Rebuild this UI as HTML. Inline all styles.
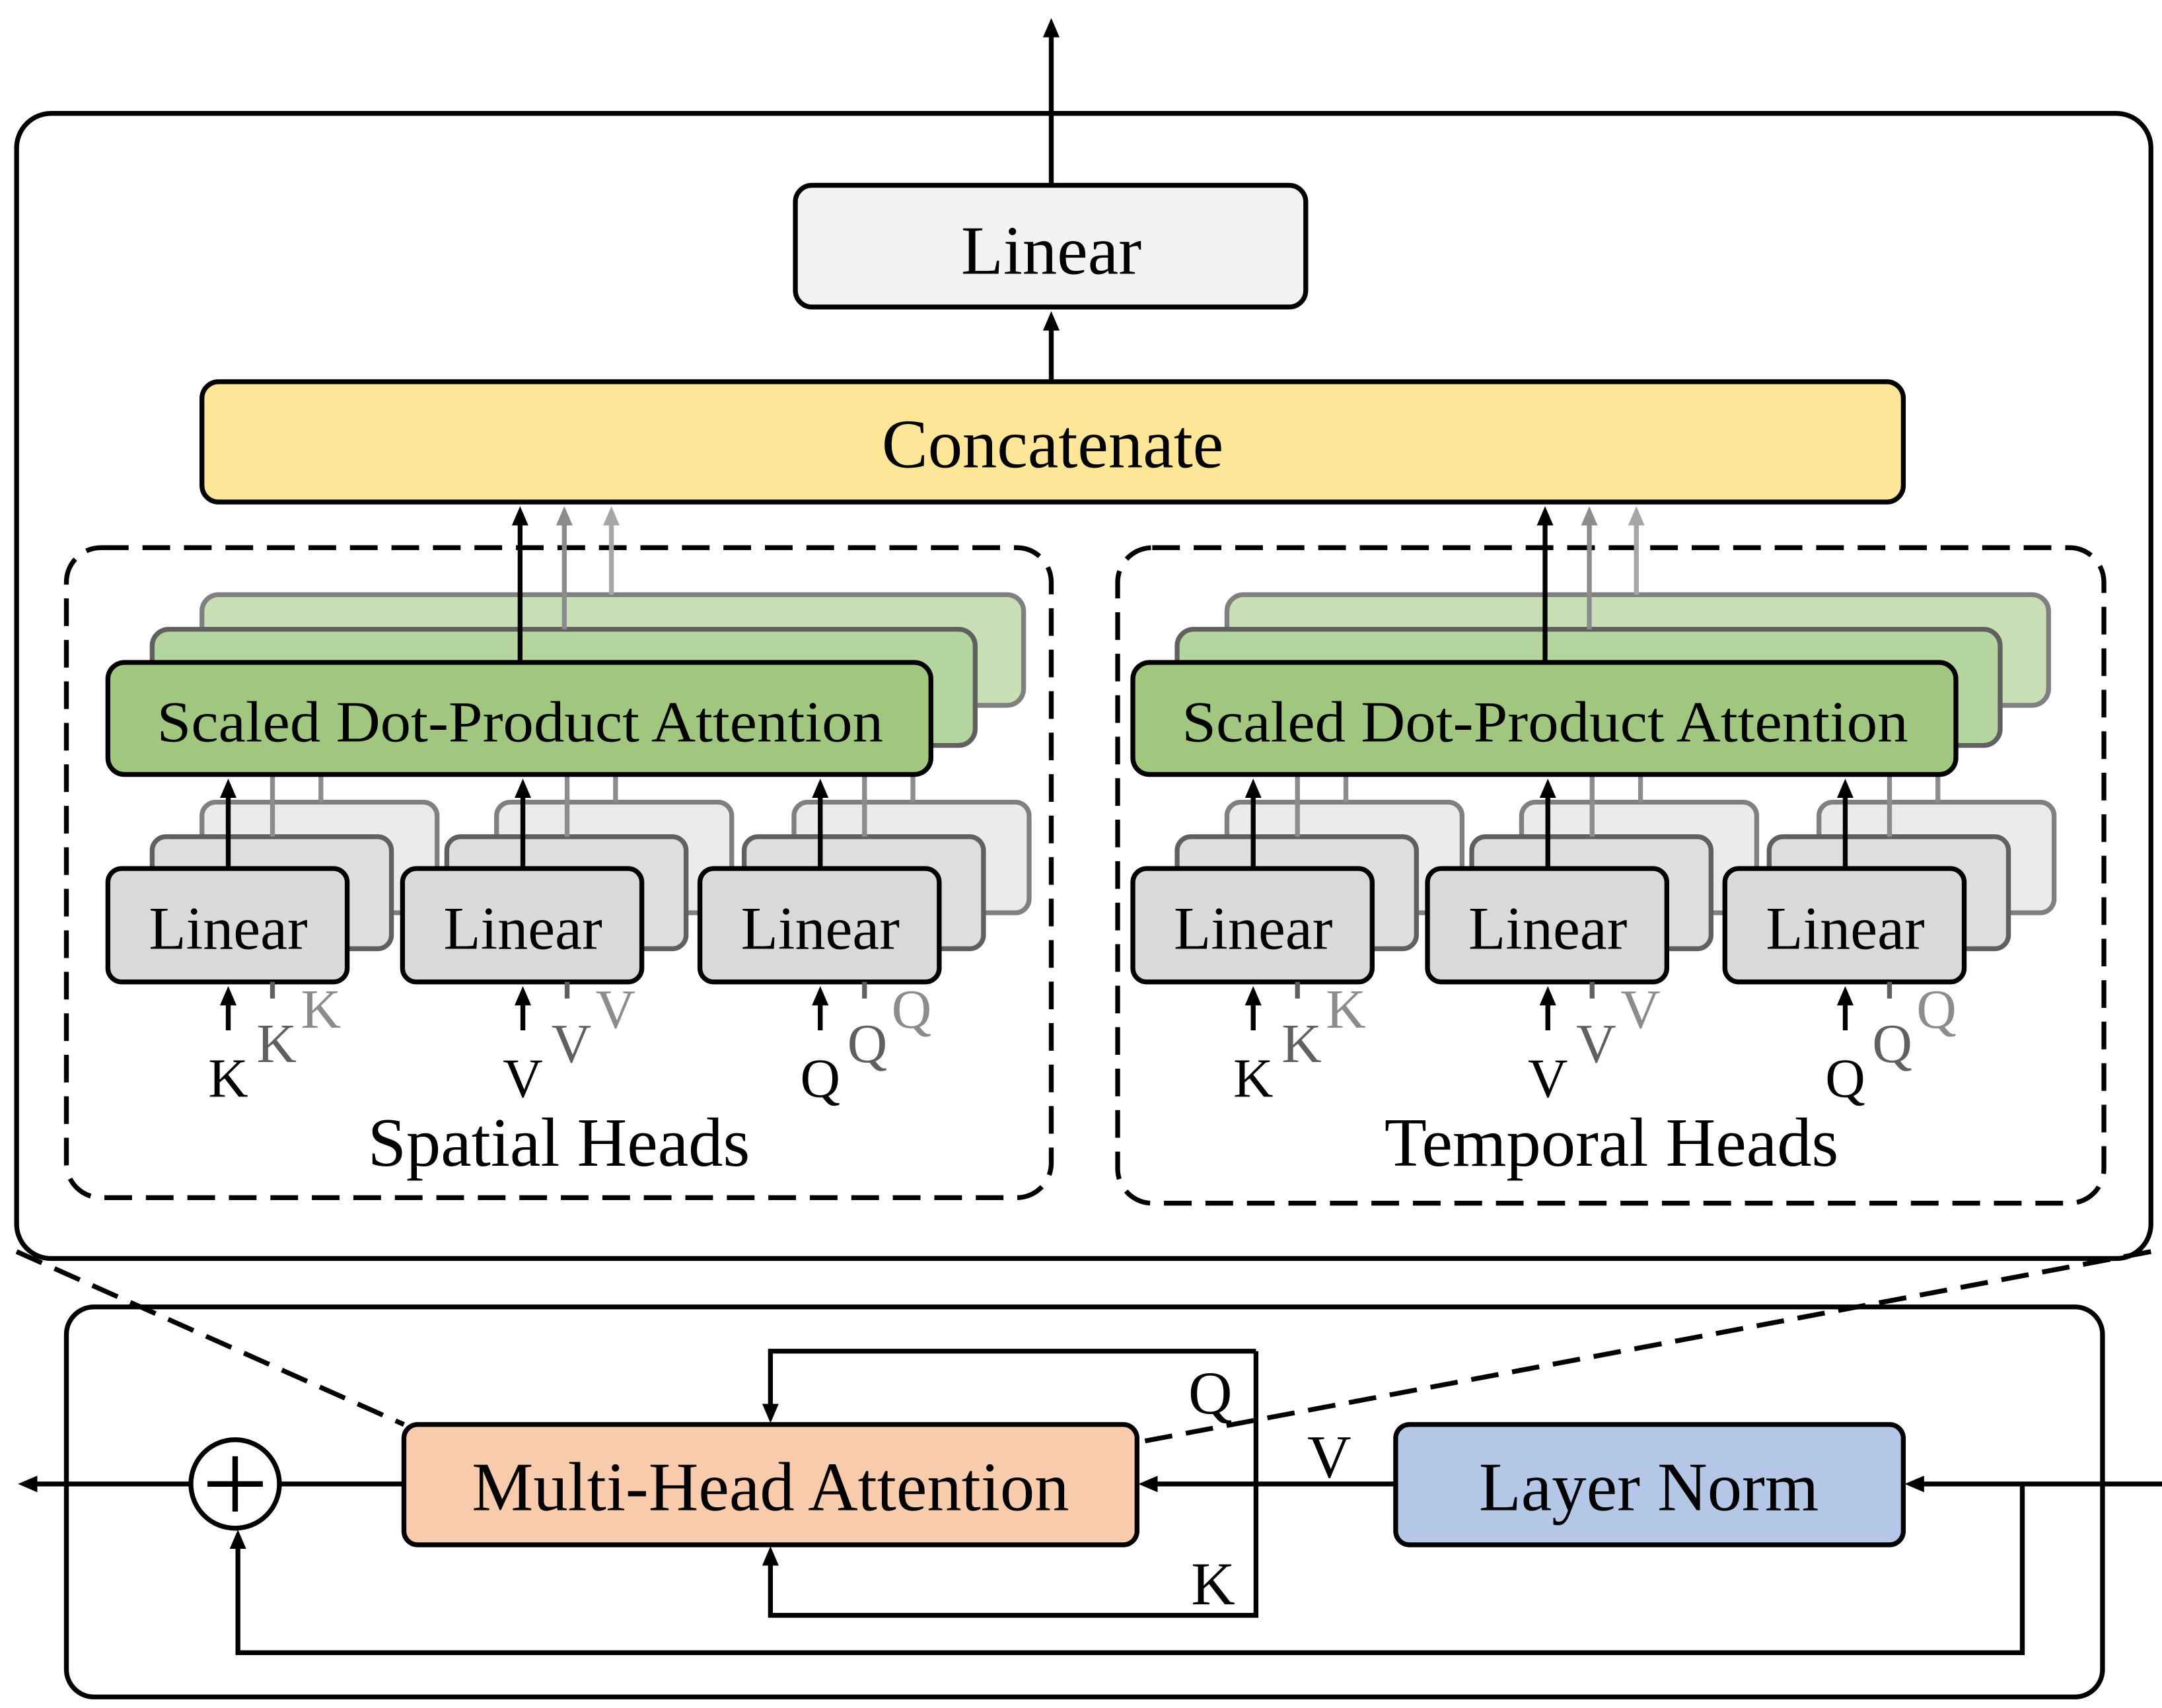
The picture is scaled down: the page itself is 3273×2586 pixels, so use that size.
<!DOCTYPE html>
<html><head><meta charset="utf-8"><style>html,body{margin:0;padding:0;background:#fff}svg{display:block}</style></head>
<body>
<svg width="3273" height="2586" viewBox="0 0 1563 1235" preserveAspectRatio="none" xmlns="http://www.w3.org/2000/svg" font-family="Liberation Serif, serif">
<defs>
<marker id="ab" markerWidth="14" markerHeight="14" refX="7" refY="7" orient="auto" markerUnits="userSpaceOnUse" viewBox="0 0 14 14"><path d="M0,1 L14,7 L0,13 z" fill="#000"/></marker>
<marker id="ag" markerWidth="14" markerHeight="14" refX="7" refY="7" orient="auto" markerUnits="userSpaceOnUse" viewBox="0 0 14 14"><path d="M0,1 L14,7 L0,13 z" fill="#8c8c8c"/></marker>
<marker id="ag2" markerWidth="14" markerHeight="14" refX="7" refY="7" orient="auto" markerUnits="userSpaceOnUse" viewBox="0 0 14 14"><path d="M0,1 L14,7 L0,13 z" fill="#a6a6a6"/></marker>
<g id="half">
  <g id="lin">
    <rect x="146" y="580" width="170" height="80" rx="10" fill="#ebebeb" stroke="#808080" stroke-width="3.5"/>
    <rect x="110" y="605" width="173" height="81" rx="10" fill="#dedede" stroke="#606060" stroke-width="3.5"/>
    <line x1="232" y1="580" x2="232" y2="560" stroke="#8c8c8c" stroke-width="3.5"/>
    <line x1="197" y1="605" x2="197" y2="560" stroke="#8c8c8c" stroke-width="3.5"/>
    <rect x="78" y="628" width="173" height="82" rx="10" fill="#d9d9d9" stroke="#000" stroke-width="3.5"/>
    <line x1="165" y1="628" x2="165" y2="570" stroke="#000" stroke-width="3.5" marker-end="url(#ab)"/>
    <text x="165" y="686" font-size="44" text-anchor="middle">Linear</text>
    <line x1="165" y1="745" x2="165" y2="720" stroke="#000" stroke-width="3.5" marker-end="url(#ab)"/>
    <line x1="197" y1="710" x2="197" y2="722" stroke="#606060" stroke-width="3.5"/>
  </g>
  <use href="#lin" x="213"/>
  <use href="#lin" x="428"/>
  <text x="165" y="793" font-size="40" text-anchor="middle">K</text>
  <text x="200" y="768" font-size="40" text-anchor="middle" fill="#606060">K</text>
  <text x="232" y="743" font-size="40" text-anchor="middle" fill="#8c8c8c">K</text>
  <text x="378" y="793" font-size="40" text-anchor="middle">V</text>
  <text x="413" y="768" font-size="40" text-anchor="middle" fill="#606060">V</text>
  <text x="445" y="743" font-size="40" text-anchor="middle" fill="#8c8c8c">V</text>
  <text x="593" y="793" font-size="40" text-anchor="middle">Q</text>
  <text x="627" y="768" font-size="40" text-anchor="middle" fill="#606060">Q</text>
  <text x="659" y="743" font-size="40" text-anchor="middle" fill="#8c8c8c">Q</text>
  <rect x="146" y="430" width="594" height="80" rx="12" fill="#c9dfb5" stroke="#808080" stroke-width="3.5"/>
  <line x1="442" y1="430" x2="442" y2="373" stroke="#a6a6a6" stroke-width="3.5" marker-end="url(#ag2)"/>
  <rect x="110" y="455" width="595" height="84" rx="12" fill="#b5d59e" stroke="#606060" stroke-width="3.5"/>
  <line x1="408" y1="455" x2="408" y2="373" stroke="#8c8c8c" stroke-width="3.5" marker-end="url(#ag)"/>
  <rect x="78" y="479" width="595" height="81" rx="12" fill="#a0c680" stroke="#000" stroke-width="3.5"/>
  <line x1="376" y1="479" x2="376" y2="373" stroke="#000" stroke-width="3.5" marker-end="url(#ab)"/>
  <text x="376" y="536" font-size="42" text-anchor="middle" textLength="525" lengthAdjust="spacingAndGlyphs">Scaled Dot-Product Attention</text>
</g>
</defs>
<line x1="760" y1="133" x2="760" y2="20" stroke="#000" stroke-width="3.5" marker-end="url(#ab)"/>
<rect x="12" y="82" width="1543" height="828" rx="25" fill="none" stroke="#000" stroke-width="3.5"/>
<rect x="575" y="134" width="369" height="88" rx="12" fill="#f2f2f2" stroke="#000" stroke-width="3.5"/>
<text x="760" y="198" font-size="50" text-anchor="middle">Linear</text>
<line x1="760" y1="276" x2="760" y2="232" stroke="#000" stroke-width="3.5" marker-end="url(#ab)"/>
<rect x="146" y="276" width="1230" height="87" rx="12" fill="#fee699" stroke="#000" stroke-width="3.5"/>
<text x="761" y="338" font-size="50" text-anchor="middle">Concatenate</text>
<rect x="48" y="396" width="712" height="470" rx="25" fill="none" stroke="#000" stroke-width="3.5" stroke-dasharray="20,10"/>
<rect x="808" y="396" width="713" height="474" rx="25" fill="none" stroke="#000" stroke-width="3.5" stroke-dasharray="20,10"/>
<use href="#half"/>
<use href="#half" x="741"/>
<text x="404" y="843" font-size="50" text-anchor="middle">Spatial Heads</text>
<text x="1165" y="843" font-size="50" text-anchor="middle">Temporal Heads</text>
<rect x="48" y="945" width="1472" height="282" rx="20" fill="none" stroke="#000" stroke-width="3.5"/>
<line x1="12" y1="905" x2="292" y2="1030" stroke="#000" stroke-width="3.5" stroke-dasharray="20,10"/>
<line x1="1555" y1="905" x2="822" y2="1043" stroke="#000" stroke-width="3.5" stroke-dasharray="20,10"/>
<polyline points="908,977 557,977 557,1022" fill="none" stroke="#000" stroke-width="3.5" marker-end="url(#ab)"/>
<polyline points="908,977 908,1168 557,1168 557,1125" fill="none" stroke="#000" stroke-width="3.5" marker-end="url(#ab)"/>
<rect x="292" y="1030" width="530" height="87" rx="10" fill="#f8cbad" stroke="#000" stroke-width="3.5"/>
<text x="557" y="1092" font-size="50" text-anchor="middle">Multi-Head Attention</text>
<rect x="1009" y="1030" width="367" height="87" rx="10" fill="#b4c7e7" stroke="#000" stroke-width="3.5"/>
<text x="1192" y="1092" font-size="50" text-anchor="middle">Layer Norm</text>
<text x="875" y="1022" font-size="44" text-anchor="middle">Q</text>
<text x="877" y="1160" font-size="44" text-anchor="middle">K</text>
<text x="961" y="1068" font-size="44" text-anchor="middle">V</text>
<line x1="1009" y1="1073" x2="830" y2="1073" stroke="#000" stroke-width="3.5" marker-end="url(#ab)"/>
<line x1="1563" y1="1073" x2="1384" y2="1073" stroke="#000" stroke-width="3.5" marker-end="url(#ab)"/>
<polyline points="1462,1073 1462,1195 172,1195 172,1113" fill="none" stroke="#000" stroke-width="3.5" marker-end="url(#ab)"/>
<line x1="292" y1="1073" x2="202" y2="1073" stroke="#000" stroke-width="3.5"/>
<line x1="138" y1="1073" x2="20" y2="1073" stroke="#000" stroke-width="3.5" marker-end="url(#ab)"/>
<circle cx="170" cy="1073" r="32" fill="#fff" stroke="#000" stroke-width="3.5"/>
<line x1="150" y1="1073" x2="190" y2="1073" stroke="#000" stroke-width="4"/>
<line x1="170" y1="1053" x2="170" y2="1093" stroke="#000" stroke-width="4"/>
</svg>
</body></html>
